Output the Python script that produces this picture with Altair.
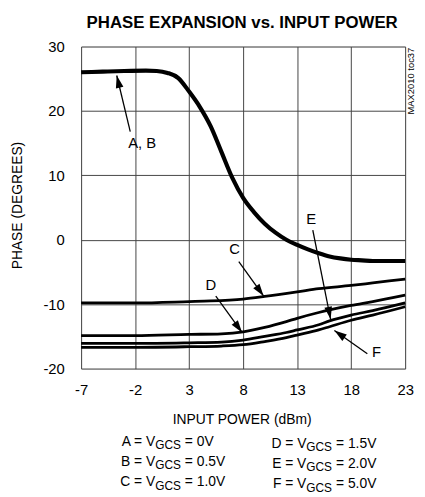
import math
import altair as alt
import pandas as pd

# ---------------- data ----------------
W, H = 328, 326
X_DOMAIN = [-7, 23]
Y_DOMAIN = [-20, 30]
x_ticks = [-7, -2, 3, 8, 13, 18, 23]
y_ticks = [-20, -10, 0, 10, 20, 30]

ab_x = [-7, -5, -3, -1, 0, 1, 2, 3, 4, 5, 6, 7, 8, 9, 10, 11, 12, 13, 14, 15, 16, 17, 18, 19, 20, 21, 22, 23]
ab_y = [26.0, 26.1, 26.2, 26.25, 26.2, 25.9, 25.1, 23.0, 20.6, 17.6, 13.6, 9.6, 6.5, 4.3, 2.5, 1.1, 0.0, -0.8,
        -1.5, -2.1, -2.6, -2.9, -3.1, -3.2, -3.3, -3.3, -3.3, -3.3]

c_x = [-7, -2, 3, 5, 8, 10, 13, 15, 18, 20, 23]
c_y = [-9.8, -9.8, -9.6, -9.5, -9.2, -8.8, -8.1, -7.6, -7.1, -6.7, -6.1]

def_x = [-7, -2, 3, 6, 8, 10, 12, 13, 15, 16, 18, 20, 23]
d_y = [-14.9, -14.9, -14.7, -14.6, -14.3, -13.6, -12.7, -12.2, -11.3, -10.9, -10.2, -9.6, -8.6]
e_y = [-16.1, -16.1, -16.0, -15.9, -15.6, -15.0, -14.4, -14.0, -13.2, -12.6, -11.7, -11.0, -9.8]
f_y = [-16.7, -16.7, -16.6, -16.5, -16.3, -15.8, -15.2, -14.8, -14.0, -13.5, -12.5, -11.7, -10.4]

# annotations (data units)
ann_text = ["A, B", "C", "D", "E", "F"]
ann_lx = [-1.35, 7.2, 5.0, 14.3, 20.35]
ann_ly = [15.0, -1.5, -7.1, 3.2, -17.45]
arr_x1 = [-2.45, 7.6, 5.47, 14.45, 19.5]
arr_y1 = [16.8, -3.4, -8.75, 1.5, -17.7]
arr_x2 = [-3.7, 9.9, 7.9, 16.1, 16.45]
arr_y2 = [25.5, -8.75, -14.4, -12.35, -14.1]

leg_left_name = ["A", "B", "C"]
leg_left_val = ["0V", "0.5V", "1.0V"]
leg_right_name = ["D", "E", "F"]
leg_right_val = ["1.5V", "2.0V", "5.0V"]

# ---------------- build ----------------
FONT = "Liberation Sans, Arial, sans-serif"

rows = []
for name, xs, ys in [("A,B", ab_x, ab_y), ("C", c_x, c_y), ("D", def_x, d_y),
                     ("E", def_x, e_y), ("F", def_x, f_y)]:
    for x, y in zip(xs, ys):
        rows.append({"curve": name, "x": x, "y": y})
df = pd.DataFrame(rows)

xsx = W / (X_DOMAIN[1] - X_DOMAIN[0])
ysy = H / (Y_DOMAIN[1] - Y_DOMAIN[0])
arr = pd.DataFrame({
    "x1": arr_x1, "y1": arr_y1, "x2": arr_x2, "y2": arr_y2,
    "angle": [math.degrees(math.atan2((b - a) * xsx, (d - c) * ysy)) % 360
              for a, b, c, d in zip(arr_x1, arr_x2, arr_y1, arr_y2)],
})
ann = pd.DataFrame({"t": ann_text, "x": ann_lx, "y": ann_ly})

xscale = alt.Scale(domain=X_DOMAIN, nice=False, zero=False)
yscale = alt.Scale(domain=Y_DOMAIN, nice=False, zero=False)

xaxis = alt.Axis(values=x_ticks, grid=True, ticks=False, domain=False, title=None,
                 labelFont=FONT, labelFontSize=15, labelColor="black", labelPadding=14,
                 labelExpr="datum.value + ''",
                 labelFlush=False, labelOverlap=False, gridColor="#444", gridWidth=1)
yaxis = alt.Axis(values=y_ticks, grid=True, ticks=False, domain=False, title=None,
                 labelFont=FONT, labelFontSize=15, labelColor="black", labelPadding=17,
                 labelExpr="datum.value + ''",
                 labelOverlap=False, gridColor="#444", gridWidth=1)

base = alt.Chart(df)
thick = base.transform_filter(alt.datum.curve == "A,B").mark_line(
    color="black", strokeWidth=4.2, interpolate="monotone").encode(
    x=alt.X("x:Q", scale=xscale, axis=xaxis),
    y=alt.Y("y:Q", scale=yscale, axis=yaxis))
thin = base.transform_filter(alt.datum.curve != "A,B").mark_line(
    color="black", strokeWidth=2.8, interpolate="monotone").encode(
    x="x:Q", y="y:Q", detail="curve:N")

shafts = alt.Chart(arr).mark_rule(color="black", strokeWidth=1.3).encode(
    x="x1:Q", y="y1:Q", x2="x2:Q", y2="y2:Q")
heads = alt.Chart(arr).mark_point(
    shape="M0,0 L-0.65,2.1 L0.65,2.1 Z", filled=True, color="black", opacity=1,
    size=144, strokeWidth=0).encode(
    x="x2:Q", y="y2:Q", angle=alt.Angle("angle:Q", scale=None))
labels = alt.Chart(ann).mark_text(font=FONT, fontSize=15, color="black").encode(
    x="x:Q", y="y:Q", text="t:N")


def txt(s, px, py, size=14, align="center", baseline="alphabetic", angle=0, weight="normal"):
    return alt.Chart(alt.Data(values=[{"t": s}])).mark_text(
        font=FONT, fontSize=size, align=align, baseline=baseline, angle=angle,
        fontWeight=weight, color="black").encode(
        x=alt.value(px), y=alt.value(py), text="t:N")


texts = [
    txt("PHASE EXPANSION vs. INPUT POWER", 163, -19, size=17, weight="bold"),
    txt("PHASE (DEGREES)", -64, 161, size=14, baseline="middle", angle=270),
    txt("INPUT POWER (dBm)", 163, 382, size=14),
    txt("MAX2010 toc37", 334, 35, size=9.5, baseline="middle", angle=270),
]
for i in range(3):
    by = 404 + 20.5 * i
    texts.append(txt(f"{leg_left_name[i]} = V", 75, by, align="right"))
    texts.append(txt("GCS", 75, by + 3.5, size=12, align="left"))
    texts.append(txt(f"= {leg_left_val[i]}", 105, by, align="left"))
    by2 = 406 + 20.5 * i
    texts.append(txt(f"{leg_right_name[i]} = V", 228, by2, align="right"))
    texts.append(txt("GCS", 228, by2 + 3.5, size=12, align="left"))
    texts.append(txt(f"= {leg_right_val[i]}", 258, by2, align="left"))

chart = alt.layer(thick, thin, shafts, heads, labels, *texts).properties(
    width=W, height=H,
    autosize=alt.AutoSizeParams(type="none"),
    padding={"left": 74, "top": 36, "right": 12, "bottom": 125},
).configure_view(stroke="black", strokeWidth=3).configure(background="white")

chart.save("out.html", embed_options={"renderer": "svg", "actions": False})
